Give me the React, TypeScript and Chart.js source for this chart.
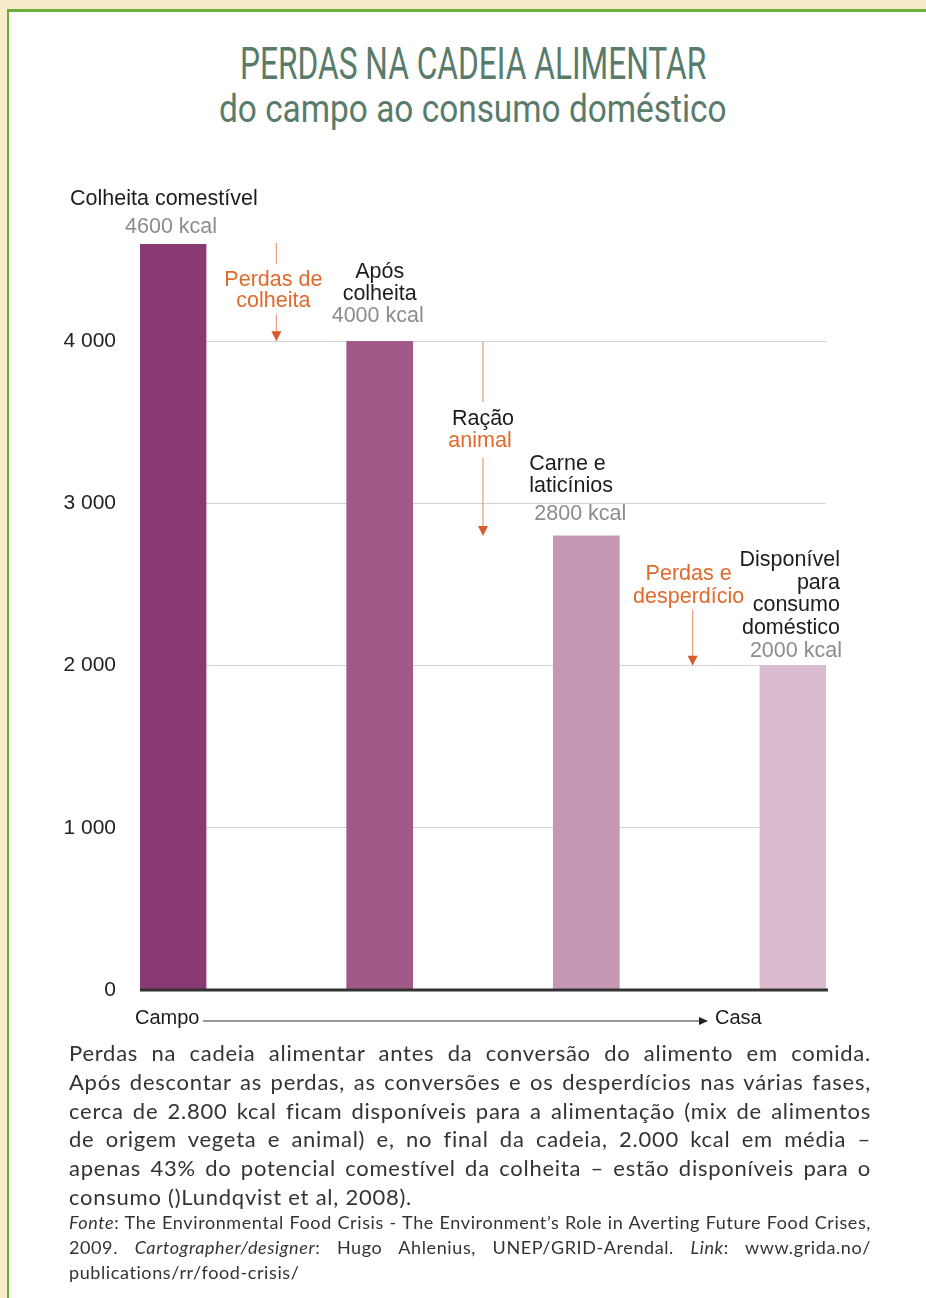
import React, { useEffect, useLayoutEffect, useRef, useState } from "react";
import { Chart, registerables } from "chart.js";

Chart.register(...registerables);

// ---------- data ----------
const stageNames = ["Colheita comestível", "Após colheita", "Carne e laticínios", "Disponível para consumo doméstico"];
const kcalValues = [4600, 4000, 2800, 2000];
const kcalLabels = ["4600 kcal", "4000 kcal", "2800 kcal", "2000 kcal"];
const barColors = ["#8a3a72", "#a15a88", "#c597b5", "#dabace"];
const yTicks = [0, 1000, 2000, 3000, 4000];
const yTickLabels = ["0", "1 000", "2 000", "3 000", "4 000"];
const lossLabels = [["Perdas de", "colheita"], ["Ração", "animal"], ["Perdas e", "desperdício"]];
const axisEnds = ["Campo", "Casa"];

const titleLines = ["PERDAS NA CADEIA ALIMENTAR", "do campo ao consumo doméstico"];
const captionLines = [
  "Perdas na cadeia alimentar antes da conversão do alimento em comida.",
  "Após descontar as perdas, as conversões e os desperdícios nas várias fases,",
  "cerca de 2.800 kcal ficam disponíveis para a alimentação (mix de alimentos",
  "de origem vegeta e animal) e, no final da cadeia, 2.000 kcal em média –",
  "apenas 43% do potencial comestível da colheita – estão disponíveis para o",
  "consumo ()Lundqvist et al, 2008).",
];

const LABEL_FONT = "21.5px 'Liberation Sans', Arial, Helvetica, sans-serif";
const BLACK = "#1c1c1c";
const GRAY = "#8c8c8c";
const ORANGE = "#e0692c";

function drawText(ctx: CanvasRenderingContext2D, s: string, x: number, y: number, color: string, align: CanvasTextAlign) {
  ctx.fillStyle = color;
  ctx.textAlign = align;
  ctx.fillText(s, x, y);
}

function vLine(ctx: CanvasRenderingContext2D, x: number, y1: number, y2: number) {
  ctx.strokeStyle = "#e7a184";
  ctx.lineWidth = 1.3;
  ctx.beginPath();
  ctx.moveTo(x, y1);
  ctx.lineTo(x, y2);
  ctx.stroke();
}

function arrowHead(ctx: CanvasRenderingContext2D, x: number, yTip: number) {
  ctx.fillStyle = "#d95b2b";
  ctx.beginPath();
  ctx.moveTo(x, yTip);
  ctx.lineTo(x - 5, yTip - 10);
  ctx.lineTo(x + 5, yTip - 10);
  ctx.closePath();
  ctx.fill();
}

const annotationPlugin = {
  id: "annotations",
  afterDraw(chart: any) {
    const { ctx, chartArea } = chart;
    const xs = chart.scales.x;
    const ys = chart.scales.y;
    const xc = (i: number) => xs.getPixelForValue(i);
    const yv = (v: number) => ys.getPixelForValue(v);
    const y0 = yv(0);
    const y1 = yv(kcalValues[0]);
    const y2 = yv(kcalValues[1]);
    const y3 = yv(kcalValues[2]);
    const y4 = yv(kcalValues[3]);

    ctx.save();
    // baseline
    ctx.strokeStyle = "#333333";
    ctx.lineWidth = 3;
    ctx.beginPath();
    ctx.moveTo(chartArea.left, y0);
    ctx.lineTo(chartArea.right + 2, y0);
    ctx.stroke();

    ctx.font = LABEL_FONT;
    ctx.textBaseline = "middle";

    // stage 1
    drawText(ctx, stageNames[0], xc(0) - 103, y1 - 45, BLACK, "left");
    drawText(ctx, kcalLabels[0], xc(0) - 2, y1 - 17, GRAY, "center");

    // loss 1
    const g0 = (xc(0) + xc(1)) / 2;
    drawText(ctx, lossLabels[0][0], g0 - 3, y2 - 61, ORANGE, "center");
    drawText(ctx, lossLabels[0][1], g0 - 3, y2 - 40, ORANGE, "center");
    vLine(ctx, g0, y1 - 1, y2 - 77);
    vLine(ctx, g0, y2 - 27, y2 - 6);
    arrowHead(ctx, g0, y2);

    // stage 2
    drawText(ctx, "Após", xc(1), y2 - 69, BLACK, "center");
    drawText(ctx, "colheita", xc(1), y2 - 47, BLACK, "center");
    drawText(ctx, kcalLabels[1], xc(1) - 2, y2 - 25, GRAY, "center");

    // loss 2
    const g1 = (xc(1) + xc(2)) / 2;
    vLine(ctx, g1, y2, y2 + 61);
    drawText(ctx, lossLabels[1][0], g1, y2 + 78, BLACK, "center");
    drawText(ctx, lossLabels[1][1], g1 - 3, y2 + 100, ORANGE, "center");
    vLine(ctx, g1, y3 - 78, y3 - 6);
    arrowHead(ctx, g1, y3);

    // stage 3
    drawText(ctx, "Carne e", xc(2) - 57, y3 - 72, BLACK, "left");
    drawText(ctx, "laticínios", xc(2) - 57, y3 - 50, BLACK, "left");
    drawText(ctx, kcalLabels[2], xc(2) - 52, y3 - 22, GRAY, "left");

    // loss 3
    const g2 = (xc(2) + xc(3)) / 2;
    drawText(ctx, lossLabels[2][0], g2 - 1, y4 - 92, ORANGE, "center");
    drawText(ctx, lossLabels[2][1], g2 - 1, y4 - 69, ORANGE, "center");
    vLine(ctx, g2 + 3, y4 - 56, y4 - 6);
    arrowHead(ctx, g2 + 3, y4);

    // stage 4
    const rx = xc(3) + 47;
    drawText(ctx, "Disponível", rx, y4 - 106, BLACK, "right");
    drawText(ctx, "para", rx, y4 - 83, BLACK, "right");
    drawText(ctx, "consumo", rx, y4 - 61, BLACK, "right");
    drawText(ctx, "doméstico", rx, y4 - 38, BLACK, "right");
    drawText(ctx, kcalLabels[3], rx + 2, y4 - 15, GRAY, "right");

    // Campo -> Casa
    ctx.font = "20px 'Liberation Sans', Arial, sans-serif";
    drawText(ctx, axisEnds[0], chartArea.left - 5, y0 + 28, BLACK, "left");
    const ax1 = chartArea.left + 63;
    const ax2 = chartArea.right - 118;
    ctx.strokeStyle = "#333";
    ctx.lineWidth = 1.2;
    ctx.beginPath();
    ctx.moveTo(ax1, y0 + 31);
    ctx.lineTo(ax2 - 6, y0 + 31);
    ctx.stroke();
    ctx.fillStyle = "#222";
    ctx.beginPath();
    ctx.moveTo(ax2, y0 + 31);
    ctx.lineTo(ax2 - 9, y0 + 27);
    ctx.lineTo(ax2 - 9, y0 + 35);
    ctx.closePath();
    ctx.fill();
    drawText(ctx, axisEnds[1], ax2 + 7, y0 + 28, BLACK, "left");

    ctx.restore();
  },
};

function FitLine({ text, width, style }: { text: string; width: number; style: React.CSSProperties }) {
  const ref = useRef<HTMLSpanElement>(null);
  const [scale, setScale] = useState(1);
  useLayoutEffect(() => {
    const measure = () => {
      if (ref.current) {
        const w = ref.current.offsetWidth;
        if (w > 0) setScale(width / w);
      }
    };
    measure();
    if ((document as any).fonts) (document as any).fonts.ready.then(measure);
  }, [text, width]);
  return (
    <div style={{ ...style, textAlign: "center", whiteSpace: "nowrap" }}>
      <span ref={ref} style={{ display: "inline-block", transform: `scaleX(${scale})`, transformOrigin: "center" }}>
        {text}
      </span>
    </div>
  );
}

export default function App() {
  const canvasRef = useRef<HTMLCanvasElement>(null);

  useEffect(() => {
    if (!canvasRef.current) return;
    const chart = new Chart(canvasRef.current, {
      type: "bar",
      data: {
        datasets: [
          {
            data: kcalValues.map((v, i) => ({ x: i, y: v })),
            backgroundColor: barColors,
            borderWidth: 0,
            barThickness: 66,
          } as any,
        ],
      },
      options: {
        animation: false,
        responsive: false,
        devicePixelRatio: 1,
        layout: { padding: { left: 60, right: 100, top: 94, bottom: 60 } },
        plugins: { legend: { display: false }, tooltip: { enabled: false }, title: { display: false } },
        scales: {
          x: { type: "linear", min: -0.16, max: 3.16, offset: false, display: false },
          y: {
            min: 0,
            max: 4600,
            border: { display: false },
            grid: {
              drawTicks: false,
              lineWidth: 1,
              color: (c: any) => (c.tick && c.tick.value === 0 ? "rgba(0,0,0,0)" : "#d3d3d3"),
            },
            ticks: {
              padding: 24,
              color: "#222",
              font: { family: "'Liberation Sans', Arial, sans-serif", size: 21 },
              callback: (v: any) => {
                const idx = yTicks.indexOf(Number(v));
                return idx >= 0 ? yTickLabels[idx] : "";
              },
            },
            afterBuildTicks: (s: any) => {
              s.ticks = yTicks.map((v) => ({ value: v }));
            },
            afterFit: (s: any) => {
              s.width = 80;
            },
          } as any,
        },
      } as any,
      plugins: [annotationPlugin],
    });
    return () => chart.destroy();
  }, []);

  const titleColor = "#597b6a";
  const textColor = "#333";

  return (
    <div style={{ position: "absolute", left: 0, top: 0, width: 926, height: 1298, background: "#f7ecc9", overflow: "hidden" }}>
      <div
        style={{
          position: "absolute",
          left: 7,
          top: 9,
          right: 0,
          bottom: 0,
          background: "#ffffff",
          borderTop: "3px solid #6cae3c",
          borderLeft: "2px solid #6cae3c",
        }}
      />
      <FitLine
        text={titleLines[0]}
        width={466}
        style={{ position: "absolute", left: 0, width: 946, top: 41, fontFamily: "Roboto, sans-serif", fontWeight: 400, fontSize: 45, lineHeight: "45px", color: titleColor }}
      />
      <FitLine
        text={titleLines[1]}
        width={508}
        style={{ position: "absolute", left: 0, width: 946, top: 90, fontFamily: "Roboto, sans-serif", fontWeight: 400, fontSize: 38, lineHeight: "38px", color: titleColor }}
      />
      <canvas ref={canvasRef} width={926} height={900} style={{ position: "absolute", left: 0, top: 150, width: 926, height: 900 }} />
      <div
        style={{
          position: "absolute",
          left: 69,
          top: 1039,
          width: 802,
          fontFamily: "Lato, 'Open Sans', sans-serif",
          fontSize: 22,
          letterSpacing: "0.75px",
          lineHeight: "28.8px",
          color: textColor,
        }}
      >
        {captionLines.map((l, i) => (
          <div key={i} style={{ textAlign: "justify", textAlignLast: i < captionLines.length - 1 ? "justify" : "left" } as any}>
            {l}
          </div>
        ))}
      </div>
      <div
        style={{
          position: "absolute",
          left: 69,
          top: 1210,
          width: 802,
          fontFamily: "Lato, 'Open Sans', sans-serif",
          fontSize: 18,
          letterSpacing: "0.6px",
          lineHeight: "25px",
          color: textColor,
        }}
      >
        <div style={{ textAlign: "justify", textAlignLast: "justify" } as any}>
          <i>Fonte</i>: The Environmental Food Crisis - The Environment’s Role in Averting Future Food Crises,
        </div>
        <div style={{ textAlign: "justify", textAlignLast: "justify" } as any}>
          2009. <i>Cartographer/designer</i>: Hugo Ahlenius, UNEP/GRID-Arendal. <i>Link</i>: www.grida.no/
        </div>
        <div>publications/rr/food-crisis/</div>
      </div>
    </div>
  );
}
